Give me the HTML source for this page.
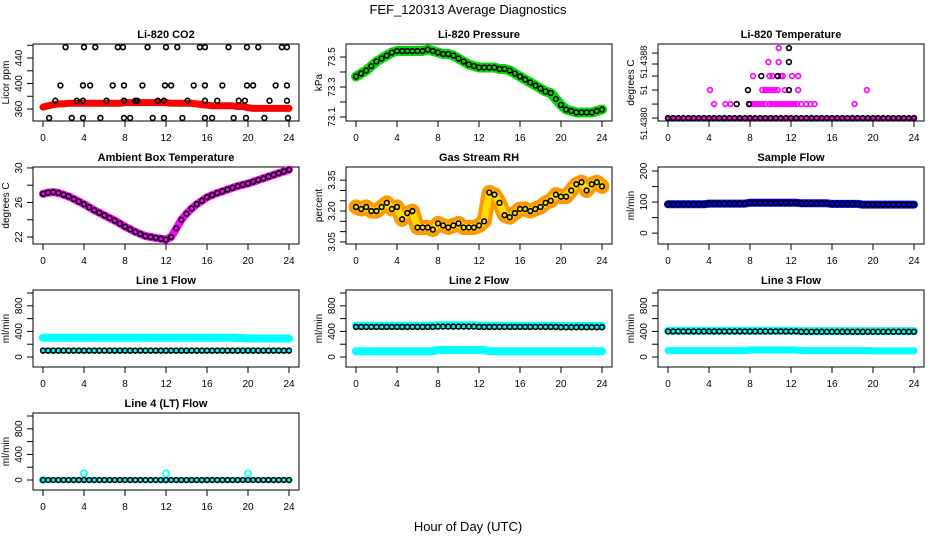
<!DOCTYPE html>
<html><head><meta charset="utf-8"><style>
body{margin:0;background:#fff;}
svg text{font-family:"Liberation Sans",sans-serif;fill:#000;}
</style></head><body>
<svg id="c" width="936" height="540" xmlns="http://www.w3.org/2000/svg">
<text x="468" y="14" font-size="13" text-anchor="middle">FEF_120313  Average Diagnostics</text>
<text x="468" y="531" font-size="13" text-anchor="middle">Hour of Day (UTC)</text>
</svg>
<script>
const H=[0,0.5,1,1.5,2,2.5,3,3.5,4,4.5,5,5.5,6,6.5,7,7.5,8,8.5,9,9.5,10,10.5,11,11.5,12,12.5,13,13.5,14,14.5,15,15.5,16,16.5,17,17.5,18,18.5,19,19.5,20,20.5,21,21.5,22,22.5,23,23.5,24];
const xTicks=[0,4,8,12,16,20,24];
const co2Red=[363,365,367,368,368,369,369,369,369,369,369,369,369,369,369,369,370,370,370,370,370,370,370,370,370,369,369,369,369,369,368,367,366,365,365,365,365,365,364,364,362,361,361,361,361,361,361,361,361];
const co2BlackHours=[2.2,4,5.1,7.3,7.8,10.2,12,13.1,15.3,15.8,18.1,19.9,21,23.3,23.8, 1.7,3.9,4.6,6.8,7.9,9.7,11.9,12.5,14.7,15.8,17.5,19.9,20.5,22.7,23.8, 1.2,3.3,3.9,6.2,7.9,9,9.2,11.2,11.8,14.1,15.8,17,19.1,19.7,22.1,23.8, 0.6,2.8,3.9,5.6,7.9,8.5,10.7,11.8,13.6,15.8,16.5,18.6,19.8,21.6,23.9];
const co2BlackVals=[457,457,457,457,457,457,457,457,457,457,457,457,457,457,457, 397,397,397,397,397,397,397,397,397,397,397,397,397,397,397, 373,373,373,373,373,373,373,373,373,373,373,373,373,373,373,373, 346,346,346,346,346,346,346,346,346,346,346,346,346,346,346];
const pressure=[73.37,73.39,73.41,73.44,73.47,73.49,73.51,73.53,73.54,73.54,73.54,73.54,73.54,73.54,73.55,73.54,73.53,73.52,73.52,73.51,73.49,73.47,73.45,73.44,73.43,73.43,73.43,73.43,73.42,73.42,73.41,73.39,73.37,73.35,73.33,73.31,73.29,73.27,73.26,73.22,73.18,73.15,73.14,73.13,73.13,73.13,73.13,73.14,73.15];
const tempBase=[0,0,0,0,0,0,0,0,0,0,0,0,0,0,0,0,0,0,0,0,0,0,0,0,0,0,0,0,0,0,0,0,0,0,0,0,0,0,0,0,0,0,0,0,0,0,0,0,0];
const tempMagHours=[4.5,5.6,6.1,8.0,8.3,8.6,8.9,9.2,9.5,9.9,10.2,10.5,10.8,11.1,11.4,11.7,12,12.3,12.6,13,13.5,13.9,14.3,18.2, 4.1,9.2,9.5,9.8,10.1,10.4,10.7,11.4,12.7,19.4, 8.3,9.9,10.2,11,11.2,12.1,12.7, 9.8,10.8, 10.8];
const tempMagLevels=[1,1,1,1,1,1,1,1,1,1,1,1,1,1,1,1,1,1,1,1,1,1,1,1, 2,2,2,2,2,2,2,2,2,2, 3,3,3,3,3,3,3, 4,4, 5];
const tempBlackHours=[6.7,7.9,7.8,11.8,9.1,10.7,11.8,11.8];
const tempBlackLevels=[1,1,2,2,3,3,4,5];
const tempTickVals=[-0.4,2,4];
const tempTickLabels=["51.4380","51","51.4388"];
const ambient=[27.0,27.15,27.2,27.1,26.9,26.7,26.4,26.1,25.8,25.45,25.1,24.8,24.5,24.2,23.9,23.55,23.2,22.9,22.6,22.35,22.1,22.0,21.9,21.8,21.7,22.0,23.0,24.0,24.7,25.3,25.8,26.2,26.6,26.85,27.1,27.3,27.5,27.7,27.9,28.05,28.2,28.4,28.6,28.8,29.0,29.2,29.4,29.6,29.8];
const rh=[3.22,3.21,3.22,3.20,3.20,3.22,3.24,3.21,3.22,3.16,3.19,3.20,3.12,3.12,3.12,3.11,3.14,3.13,3.12,3.13,3.14,3.12,3.12,3.12,3.13,3.15,3.29,3.28,3.24,3.18,3.17,3.19,3.21,3.21,3.20,3.21,3.22,3.24,3.25,3.28,3.27,3.27,3.30,3.33,3.34,3.30,3.33,3.34,3.32];
const sampleFlow=[93,93,93,93,93,93,93,93,95,95,95,95,95,95,95,95,98,98,98,98,98,98,98,98,98,98,96,96,96,96,96,96,94,94,94,94,94,94,92,92,92,92,92,92,92,92,92,92,92];
const line1High=[300,300,300,300,300,300,300,300,300,300,300,300,300,300,300,300,300,300,300,300,300,300,300,300,300,300,300,300,300,300,300,300,300,300,300,300,300,300,295,295,290,290,290,290,290,290,290,290,290];
const line1Low=[100,100,100,100,100,100,100,100,100,100,100,100,100,100,100,100,100,100,100,100,100,100,100,100,100,100,100,100,100,100,100,100,100,100,100,100,100,100,100,100,100,100,100,100,100,100,100,100,100];
const line2High=[490,490,490,490,490,490,490,490,490,490,490,490,490,490,490,490,495,495,495,495,495,495,495,495,490,490,490,490,490,490,490,490,490,490,490,490,490,490,490,490,485,485,485,485,485,485,485,485,485];
const line2Black=[470,470,470,470,470,470,470,470,470,470,470,470,470,470,470,470,475,475,475,475,475,475,475,475,470,470,470,470,470,470,470,470,470,470,470,470,470,470,470,470,465,465,465,465,465,465,465,465,465];
const line2Low=[90,90,90,90,90,90,90,90,90,90,90,90,90,90,90,90,110,110,110,110,110,110,110,110,110,110,90,90,90,90,90,90,90,90,90,90,90,90,90,90,90,90,90,90,90,90,90,90,90];
const line3High=[410,410,410,410,410,410,410,410,410,410,410,410,410,410,410,410,410,410,410,410,410,410,410,410,410,410,405,405,405,405,405,405,405,405,405,405,405,405,405,405,405,405,405,405,405,405,405,405,405];
const line3Black=[400,400,400,400,400,400,400,400,400,400,400,400,400,400,400,400,400,400,400,400,400,400,400,400,400,400,395,395,395,395,395,395,395,395,395,395,395,395,395,395,395,395,395,395,395,395,395,395,395];
const line3Low=[100,100,100,100,100,100,100,100,100,100,100,100,100,100,100,100,110,110,110,110,110,110,110,110,110,110,100,100,100,100,100,100,100,100,100,100,100,100,100,100,95,95,95,95,95,95,95,95,95];
const line4=[0,0,0,0,0,0,0,0,0,0,0,0,0,0,0,0,0,0,0,0,0,0,0,0,0,0,0,0,0,0,0,0,0,0,0,0,0,0,0,0,0,0,0,0,0,0,0,0,0];
const line4OutHours=[0,4,12,20];
const line4OutVals=[0,100,100,100];

const svg=document.getElementById('c');
const NS='http://www.w3.org/2000/svg';
function mk(tag,attrs,parent){const e=document.createElementNS(NS,tag);for(const k in attrs)e.setAttribute(k,attrs[k]);(parent||svg).appendChild(e);return e;}

const colLeft=[33,346,658];
const rowTop=[44,167,290,413];
const BH=77;
function panel(col,row,title,ylab,ymin,ymax,yTicks,yLabVals,yLabTexts,labSize){
  const L=colLeft[col],T=rowTop[row],x0=L+10,x24=L+256,R=L+266,B=T+BH;
  const g=mk('g',{});
  
  
  const X=h=>x0+(h/24)*(x24-x0);
  const Y=v=>B-(v-ymin)/(ymax-ymin)*BH;
  const t=mk('text',{x:(L+R)/2,y:T-6,'font-size':11,'font-weight':'bold','text-anchor':'middle'},g);
  
  
  t.textContent=title;
  const box=mk('rect',{x:L,y:T,width:R-L,height:BH,fill:'none',stroke:'#000','stroke-width':1},g);
  
  
  xTicks.forEach(v=>{
    mk('line',{x1:X(v),x2:X(v),y1:B,y2:B+6,stroke:'#000'},g);
    const tx=mk('text',{x:X(v),y:B+20,'font-size':10,'text-anchor':'middle'},g);
    
    
    tx.textContent=v;
  });
  yTicks.forEach(v=>{mk('line',{x1:L,x2:L-6,y1:Y(v),y2:Y(v),stroke:'#000'},g);});
  yLabVals.forEach((v,i)=>{
    const ty=mk('text',{x:0,y:0,'font-size':labSize||10,'text-anchor':'middle',transform:`translate(${L-11},${Y(v)}) rotate(-90)`},g);
    
    
    ty.textContent=yLabTexts[i];
  });
  const yl=mk('text',{x:0,y:0,'font-size':10,'text-anchor':'middle',transform:`translate(${L-24},${T+BH/2}) rotate(-90)`},g);
  
  
  yl.textContent=ylab;
  return {g,X,Y};
}
function band(p,hours,vals,color,w,name){
  const pts=hours.map((h,i)=>p.X(h).toFixed(1)+','+p.Y(vals[i]).toFixed(1)).join(' ');
  const pl=mk('polyline',{points:pts,fill:'none',stroke:color,'stroke-width':w,'stroke-linecap':'round','stroke-linejoin':'round'},p.g);
  
  
}
function circles(p,hours,vals,color,name,r){
  hours.forEach((h,i)=>{
    const c=mk('circle',{cx:p.X(h),cy:p.Y(vals[i]),r:r||2.4,fill:'none',stroke:color,'stroke-width':1.6},p.g);
    
    
  });
}

let p=panel(0,0,'Li-820 CO2','Licor ppm',341.2,462,[360,380,400,420,440,460],[360,400,440],['360','400','440']);
band(p,H,co2Red,'#ff0000',7,'co2-series');
circles(p,co2BlackHours,co2BlackVals,'#000','co2-average-point');
p=panel(1,0,'Li-820 Pressure','kPa',73.073,73.587,[73.1,73.2,73.3,73.4,73.5],[73.1,73.3,73.5],['73.1','73.3','73.5']);
band(p,H,pressure,'#00dd00',10,'pressure-series');
circles(p,H,pressure,'#000','pressure-average-point');
p=panel(2,0,'Li-820 Temperature','degrees C',-0.21,5.29,[0,1,2,3,3.86,4.64],tempTickVals,tempTickLabels,9);
band(p,H,tempBase,'#ff00ff',4,'temperature-series');
circles(p,tempMagHours,tempMagLevels,'#ff00ff','temperature-point');
circles(p,H,tempBase,'#000','temperature-average-point');
circles(p,tempBlackHours,tempBlackLevels,'#000','temperature-average-point');
p=panel(0,1,'Ambient Box Temperature','degrees C',21.19,30.11,[22,24,26,28,30],[22,26,30],['22','26','30']);
band(p,H,ambient,'#ff00ff',8,'ambient-series');
circles(p,H,ambient,'#000','ambient-average-point');
p=panel(1,1,'Gas Stream RH','percent',3.04,3.414,[3.05,3.10,3.15,3.20,3.25,3.30,3.35],[3.05,3.20,3.35],['3.05','3.20','3.35']);
band(p,H,rh,'#ff9900',15,'rh-series');
band(p,H,rh,'#ffdd00',7,'rh-series-core');
circles(p,H,rh,'#000','rh-average-point');
p=panel(2,1,'Sample Flow','ml/min',-35,213,[0,50,100,150,200],[0,100,200],['0','100','200']);
band(p,H,sampleFlow,'#0000ff',8,'sample-flow-series');
circles(p,H,sampleFlow,'#000','sample-flow-average-point');
const fT=[0,200,400,600,800,1000],fV=[0,400,800],fL=['0','400','800'];
p=panel(0,2,'Line 1 Flow','ml/min',-156,1047,fT,fV,fL);
band(p,H,line1High,'#00ffff',8,'line1-flow-series');
band(p,H,line1Low,'#00ffff',6,'line1-low-series');
circles(p,H,line1Low,'#000','line1-average-point');
p=panel(1,2,'Line 2 Flow','ml/min',-156,1047,fT,fV,fL);
band(p,H,line2High,'#00ffff',8,'line2-flow-series');
band(p,H,line2Low,'#00ffff',8,'line2-low-series');
circles(p,H,line2Black,'#000','line2-average-point');
p=panel(2,2,'Line 3 Flow','ml/min',-156,1047,fT,fV,fL);
band(p,H,line3High,'#00ffff',8,'line3-flow-series');
band(p,H,line3Low,'#00ffff',7,'line3-low-series');
circles(p,H,line3Black,'#000','line3-average-point');
p=panel(0,3,'Line 4 (LT) Flow','ml/min',-156,1047,fT,fV,fL);
band(p,H,line4,'#00ffff',5,'line4-flow-series');
circles(p,line4OutHours,line4OutVals,'#00ffff','line4-outlier-point',3.2);
circles(p,H,line4,'#000','line4-average-point');
</script>
</body></html>
